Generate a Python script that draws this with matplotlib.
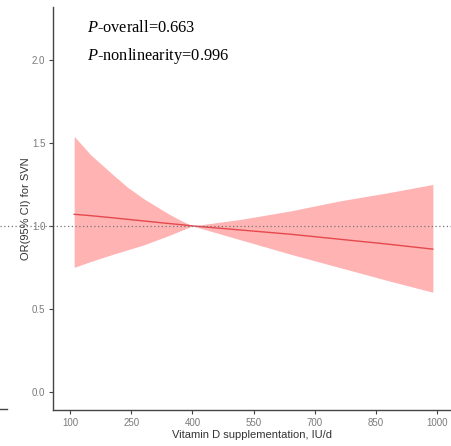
import matplotlib.pyplot as plt
from matplotlib.lines import Line2D

plt.rcParams['font.family'] = ['Liberation Sans', 'DejaVu Sans']
plt.rcParams['mathtext.fontset'] = 'custom'
plt.rcParams['mathtext.it'] = 'Liberation Serif:italic'
plt.rcParams['mathtext.rm'] = 'Liberation Serif'

# restricted cubic spline: vitamin D dose vs OR for SVN
dose = [110, 150, 200, 240, 280, 340, 370, 400, 520, 640, 760, 880, 990]
or_est = [1.07, 1.062, 1.05, 1.04, 1.03, 1.015, 1.008, 1.00, 0.975, 0.95, 0.92, 0.89, 0.86]
ci_upper = [1.54, 1.43, 1.32, 1.235, 1.165, 1.075, 1.035, 1.00, 1.04, 1.09, 1.15, 1.20, 1.25]
ci_lower = [0.75, 0.785, 0.825, 0.855, 0.885, 0.94, 0.97, 1.00, 0.915, 0.83, 0.75, 0.67, 0.60]

x_ticks = [100, 250, 400, 550, 700, 850, 1000]
y_ticks = [0.0, 0.5, 1.0, 1.5, 2.0]
p_overall = 0.663
p_nonlin = 0.996

W, H = 452, 446
fig = plt.figure(figsize=(W / 100, H / 100), dpi=100)
ax = fig.add_axes([53 / W, 36 / H, 399 / W, 403 / H])

ax.fill_between(dose, ci_lower, ci_upper, color='#FFB3B3', linewidth=0)
ax.plot(dose, or_est, color='#E5484D', linewidth=1.0)

# reference line runs across the whole figure width
ax.axhline(1.0, xmin=-53 / 399, xmax=1, color='#777777', linestyle=(0, (1, 2)),
           linewidth=0.9, clip_on=False)

ax.set_xlim(58, 1037)
ax.set_ylim(-0.11, 2.32)
ax.set_xticks(x_ticks)
ax.set_yticks(y_ticks)
ax.set_yticklabels([f'{v:.1f}' for v in y_ticks])

for side in ['top', 'right']:
    ax.spines[side].set_visible(False)
for side in ['left', 'bottom']:
    ax.spines[side].set_color('#444444')
    ax.spines[side].set_linewidth(1.0)
ax.tick_params(axis='both', colors='#444444', labelcolor='#7a7a7a',
               labelsize=7, length=3, width=0.8, pad=2.5)

ax.set_xlabel('Vitamin D supplementation, IU/d', fontsize=8, color='#333333')
ax.xaxis.set_label_coords(0.5, -20 / 403)
ax.set_ylabel('OR(95% CI) for SVN', fontsize=8, color='#333333')
ax.yaxis.set_label_coords(-22 / 399, 0.5)

fig.text(87 / W, 1 - 32 / H, '$P$-overall=' + f'{p_overall:.3f}', fontsize=11.8,
         family=['Liberation Serif'], va='baseline')
fig.text(87 / W, 1 - 60 / H, '$P$-nonlinearity=' + f'{p_nonlin:.3f}', fontsize=11.8,
         family=['Liberation Serif'], va='baseline')

# edge of the neighbouring panel's x axis
fig.add_artist(Line2D([0, 7 / W], [37 / H, 37 / H], color='#444444', linewidth=1.0))

fig.savefig('out.png', dpi=100)
